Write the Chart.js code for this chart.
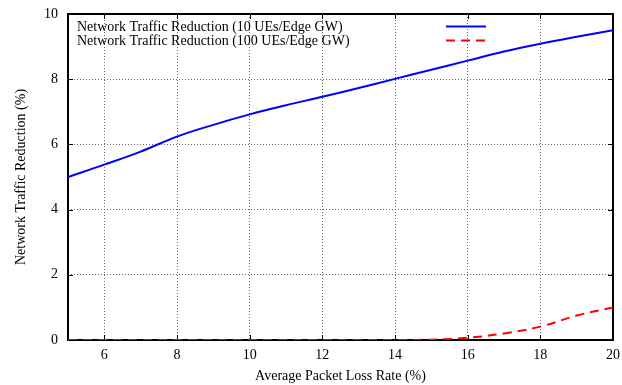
<!DOCTYPE html>
<html>
<head>
<meta charset="utf-8">
<script src="https://cdn.jsdelivr.net/npm/chart.js@4.4.0/dist/chart.umd.min.js"></script>
<style>
  html, body { margin: 0; padding: 0; background: #fff; }
  #wrap { width: 622px; height: 385px; }
</style>
</head>
<body>
<div id="wrap"><canvas id="chart" width="622" height="385"></canvas></div>
<script>
// loss rate (%) on x
const lossRate = [5, 6, 7, 8, 9, 10, 11, 12, 13, 14, 15, 16, 17, 18, 19, 20];
const reduction10 = [5.0, 5.38, 5.78, 6.24, 6.6, 6.92, 7.2, 7.46, 7.73, 8.01, 8.29, 8.57, 8.85, 9.09, 9.3, 9.5];
const reduction100 = [0, 0, 0, 0, 0, 0, 0, 0, 0, 0, 0.01, 0.07, 0.2, 0.41, 0.75, 1.0];
const xTicks = [6, 8, 10, 12, 14, 16, 18, 20];
const yTicks = [0, 2, 4, 6, 8, 10];
const seriesNames = ['Network Traffic Reduction (10 UEs/Edge GW)', 'Network Traffic Reduction (100 UEs/Edge GW)'];

const serif = 'Liberation Serif';

function pts(ys) {
    return lossRate.map((x, i) => ({x: x, y: ys[i]}));
}

// gnuplot style frame, inward ticks and key
const framePlugin = {
    id: 'frame',
    beforeDatasetsDraw(chart) {
        const ctx = chart.ctx;
        const a = chart.chartArea;
        const xs = chart.scales.x, ys = chart.scales.y;
        ctx.save();
        ctx.strokeStyle = '#000';
        ctx.lineWidth = 1;
        xTicks.forEach(v => {
            const px = Math.round(xs.getPixelForValue(v)) + 0.5;
            ctx.beginPath();
            ctx.moveTo(px, a.bottom); ctx.lineTo(px, a.bottom - 5);
            ctx.moveTo(px, a.top); ctx.lineTo(px, a.top + 5);
            ctx.stroke();
        });
        yTicks.forEach(v => {
            const py = Math.round(ys.getPixelForValue(v)) + 0.5;
            ctx.beginPath();
            ctx.moveTo(a.left, py); ctx.lineTo(a.left + 5, py);
            ctx.moveTo(a.right, py); ctx.lineTo(a.right - 5, py);
            ctx.stroke();
        });
        ctx.lineWidth = 2;
        ctx.strokeRect(a.left, a.top, a.right - a.left, a.bottom - a.top);
        ctx.restore();
    },
    afterDraw(chart) {
        const ctx = chart.ctx;
        const ds = chart.data.datasets;
        ctx.save();
        ctx.font = '14px "' + serif + '"';
        ctx.fillStyle = '#000';
        ctx.textBaseline = 'middle';
        const rows = [27, 41];
        ds.forEach((d, i) => {
            ctx.fillText(seriesNames[i], 77, rows[i]);
            ctx.beginPath();
            ctx.strokeStyle = d.borderColor;
            ctx.lineWidth = 2;
            ctx.setLineDash(d.borderDash || []);
            ctx.moveTo(446, rows[i] - 0.5);
            ctx.lineTo(486, rows[i] - 0.5);
            ctx.stroke();
        });
        ctx.restore();
    }
};

new Chart(document.getElementById('chart').getContext('2d'), {
    type: 'line',
    data: {
        datasets: [{
            label: seriesNames[0],
            data: pts(reduction10),
            borderColor: '#0000ff',
            borderWidth: 2,
            pointRadius: 0,
            tension: 0.4,
            fill: false
        }, {
            label: seriesNames[1],
            data: pts(reduction100),
            borderColor: '#ff0000',
            borderWidth: 2,
            borderDash: [9, 6],
            pointRadius: 0,
            tension: 0.4,
            fill: false
        }]
    },
    options: {
        responsive: false,
        animation: false,
        devicePixelRatio: 1,
        layout: {padding: {top: 14, right: 9, left: 0, bottom: 0}},
        plugins: {legend: {display: false}, tooltip: {enabled: false}},
        scales: {
            x: {
                type: 'linear',
                min: 5, max: 20,
                afterBuildTicks(s) { s.ticks = xTicks.map(v => ({value: v})); },
                afterFit(s) { s.height = 45; s.paddingLeft = 0; s.paddingRight = 0; },
                grid: {color: '#666', drawTicks: false, lineWidth: 1},
                border: {display: false, dash: [1, 2]},
                ticks: {color: '#000', font: {family: serif, size: 14}, padding: 7, maxRotation: 0},
                title: {display: true, text: 'Average Packet Loss Rate (%)', color: '#000',
                        font: {family: serif, size: 14}, padding: {top: 0, bottom: 0}}
            },
            y: {
                min: 0, max: 10,
                afterBuildTicks(s) { s.ticks = yTicks.map(v => ({value: v})); },
                afterFit(s) { s.width = 68; s.paddingTop = 0; s.paddingBottom = 0; },
                grid: {color: '#666', drawTicks: false, lineWidth: 1},
                border: {display: false, dash: [1, 2]},
                ticks: {color: '#000', font: {family: serif, size: 14}, padding: 10},
                title: {display: true, text: 'Network Traffic Reduction (%)', color: '#000',
                        font: {family: serif, size: 14}, padding: {top: 13, bottom: 0}}
            }
        }
    },
    plugins: [framePlugin]
});
</script>
</body>
</html>
